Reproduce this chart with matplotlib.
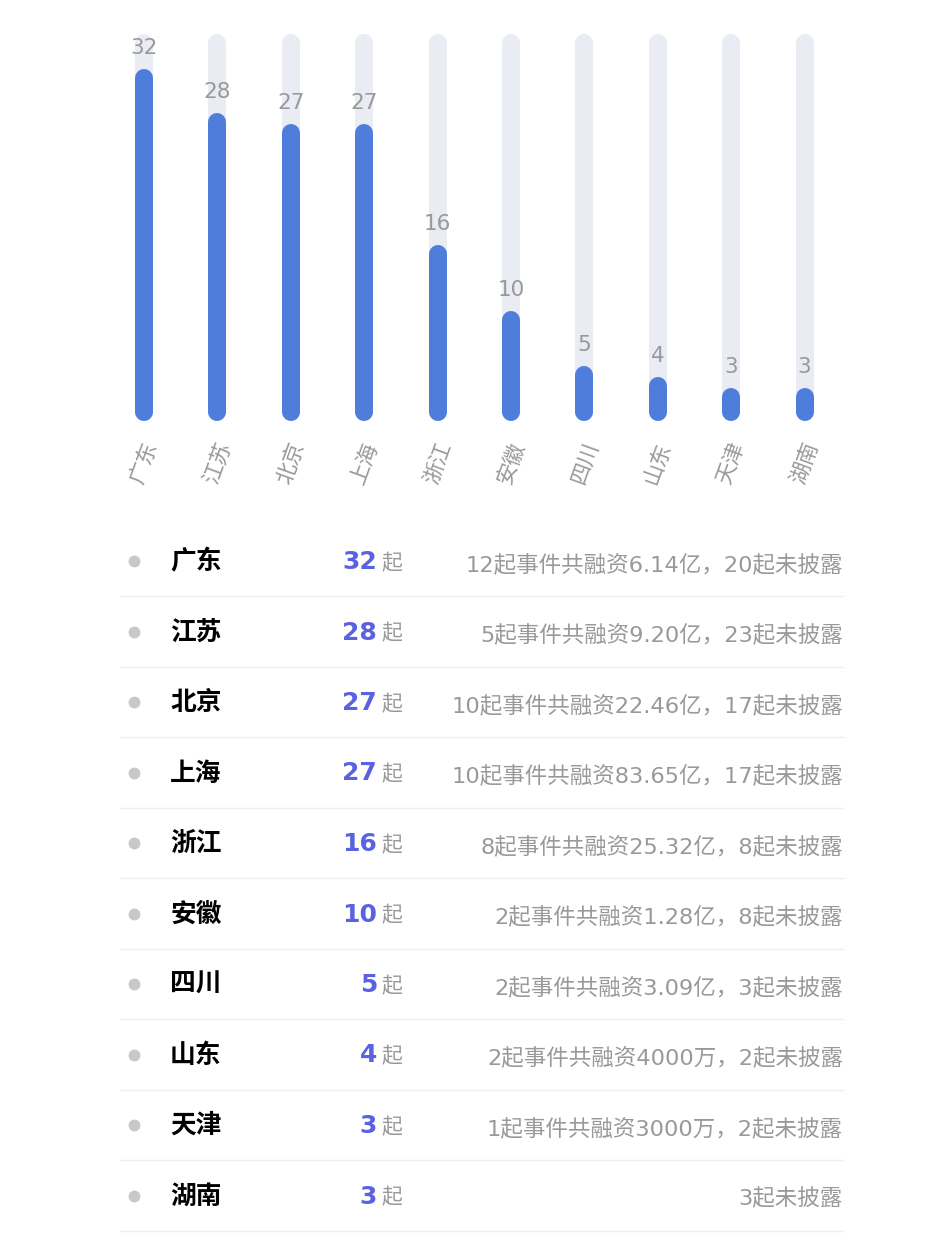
import numpy as np
import matplotlib
matplotlib.use("Agg")
import matplotlib.pyplot as plt

plt.rcParams["font.family"] = ["DejaVu Sans", "Noto Sans CJK SC"]

provinces = ["广东", "江苏", "北京", "上海", "浙江", "安徽", "四川", "山东", "天津", "湖南"]
counts = [32, 28, 27, 27, 16, 10, 5, 4, 3, 3]
details = [
    "12起事件共融资6.14亿，20起未披露",
    "5起事件共融资9.20亿，23起未披露",
    "10起事件共融资22.46亿，17起未披露",
    "10起事件共融资83.65亿，17起未披露",
    "8起事件共融资25.32亿，8起未披露",
    "2起事件共融资1.28亿，8起未披露",
    "2起事件共融资3.09亿，3起未披露",
    "2起事件共融资4000万，2起未披露",
    "1起事件共融资3000万，2起未披露",
    "3起未披露",
]

blue = "#4e7ddb"
track = "#e9ecf3"
gray = "#999999"
purple = "#5a62e2"

W, H = 948, 1254
fig = plt.figure(figsize=(W / 100, H / 100), dpi=100)

# bar part (pixel layout of the reference)
ax = fig.add_axes([107.3 / W, (H - 421) / H, 734 / W, 387 / H])
x = np.arange(len(provinces))
top = max(counts) * 1.1
r = 9 * top / 387  # cap radius in data units
lw = 18 * 72 / 100

ax.vlines(x, r, top - r, color=track, lw=lw, capstyle="round")
ax.vlines(x, r, np.array(counts) - r, color=blue, lw=lw, capstyle="round")
for xi, v in zip(x, counts):
    ax.annotate(str(v), (xi, v), xytext=(0, 11), textcoords="offset points",
                ha="center", va="baseline", fontsize=15.5, color=gray)

ax.set_xlim(-0.5, len(provinces) - 0.5)
ax.set_ylim(0, top)
ax.set_xticks(x, provinces, rotation=70, fontsize=15.5, color=gray)
ax.tick_params(axis="x", length=0, pad=13)
ax.set_yticks([])
for s in ax.spines.values():
    s.set_visible(False)

# table part
ax2 = fig.add_axes([0, 0, 1, 1], zorder=-1)
ax2.set_xlim(0, W)
ax2.set_ylim(H, 0)
ax2.axis("off")

for i, (p, c, d) in enumerate(zip(provinces, counts, details)):
    y = 561 + i * 70.5
    ax2.plot(134, y, "o", ms=7.5, color="#c8c8c8")
    ax2.text(170, y + 8, p, fontsize=18.5, fontweight="bold", color="black", va="baseline")
    ax2.text(377, y + 8, str(c), fontsize=18, fontweight="bold", color=purple,
             ha="right", va="baseline")
    ax2.text(381, y + 8, "起", fontsize=15, color=gray, va="baseline")
    ax2.text(843, y + 10, d, fontsize=16.2, color=gray, ha="right", va="baseline")
    ax2.plot([120, 843], [y + 35, y + 35], color="#eeeeee", lw=1)

plt.savefig("out.png", dpi=100)
